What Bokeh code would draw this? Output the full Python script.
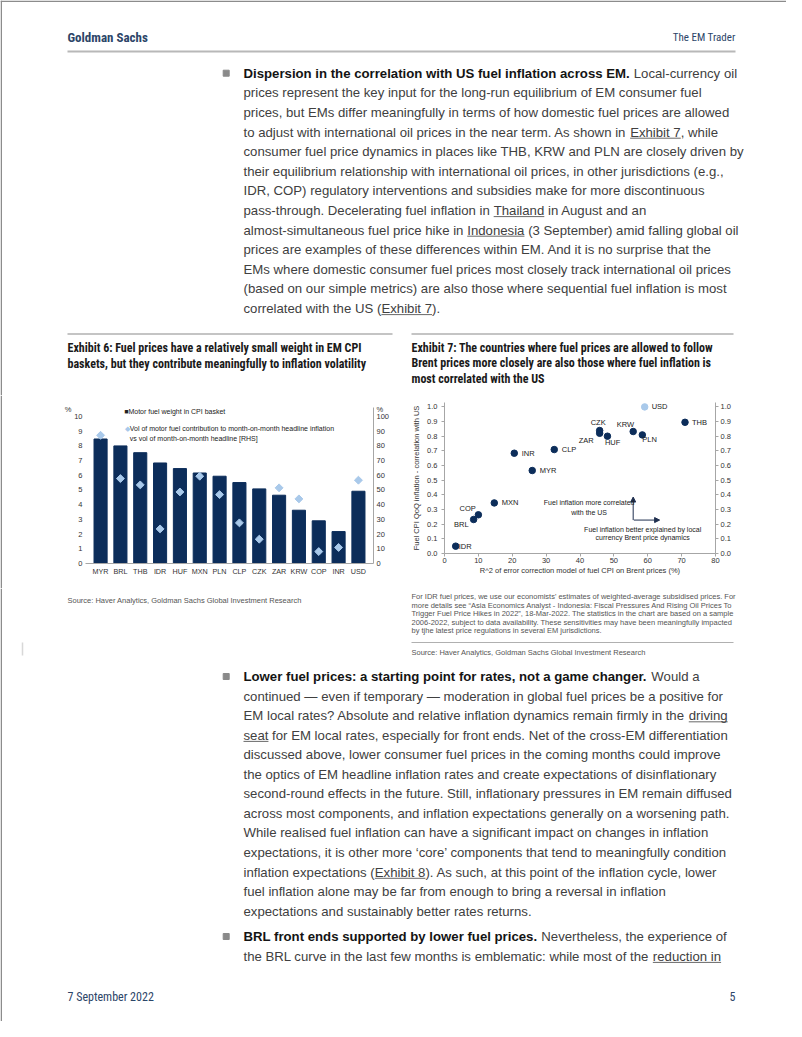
import numpy as np
from bokeh.plotting import figure
from bokeh.models import (Range1d, FactorRange, LinearAxis, FixedTicker, Label, Arrow,
                          NormalHead, PrintfTickFormatter, ColumnDataSource, Spacer)
from bokeh.layouts import column, row
from bokeh.core.properties import value
from bokeh.embed import file_html
from bokeh.resources import INLINE

# ---------------- data: Exhibit 6 ----------------
ex6_currency = ["MYR", "BRL", "THB", "IDR", "HUF", "MXN", "PLN", "CLP", "CZK", "ZAR", "KRW", "COP", "INR", "USD"]
ex6_fuel_weight = [8.46, 7.99, 7.53, 6.83, 6.45, 6.15, 5.93, 5.50, 5.07, 4.64, 3.62, 2.90, 2.17, 4.91]
ex6_vol_ratio = [87.1, 57.7, 53.4, 23.5, 48.6, 59.3, 46.8, 27.6, 16.5, 51.4, 43.9, 8.1, 10.9, 56.6]
ex6_left_ticks = [0, 1, 2, 3, 4, 5, 6, 7, 8, 9, 10]
ex6_right_ticks = [0, 10, 20, 30, 40, 50, 60, 70, 80, 90, 100]

# ---------------- data: Exhibit 7 ----------------
ex7_currency = ["USD", "THB", "KRW", "PLN", "CZK", "ZAR", "HUF", "CLP", "INR", "MYR", "MXN", "COP", "BRL", "IDR"]
ex7_r2 = [59.1, 71.0, 55.7, 58.4, 45.8, 45.8, 48.1, 32.4, 20.6, 25.9, 14.7, 10.0, 8.6, 3.3]
ex7_corr = [1.0, 0.895, 0.832, 0.809, 0.839, 0.82, 0.80, 0.709, 0.684, 0.566, 0.345, 0.264, 0.232, 0.05]
ex7_x_ticks = [0, 10, 20, 30, 40, 50, 60, 70, 80]
ex7_y_ticks = [0.0, 0.1, 0.2, 0.3, 0.4, 0.5, 0.6, 0.7, 0.8, 0.9, 1.0]

# ---------------- page texts ----------------
header_left = "Goldman Sachs"
header_right = "The EM Trader"
footer_left = "7 September 2022"
footer_right = "5"

# each line: list of (kind, text); kind r=regular, b=bold, u=underlined link
para1 = [
    [("b", "Dispersion in the correlation with US fuel inflation across EM."), ("r", " Local-currency oil")],
    [("r", "prices represent the key input for the long-run equilibrium of EM consumer fuel")],
    [("r", "prices, but EMs differ meaningfully in terms of how domestic fuel prices are allowed")],
    [("r", "to adjust with international oil prices in the near term. As shown in "), ("u", "Exhibit 7"), ("r", ", while")],
    [("r", "consumer fuel price dynamics in places like THB, KRW and PLN are closely driven by")],
    [("r", "their equilibrium relationship with international oil prices, in other jurisdictions (e.g.,")],
    [("r", "IDR, COP) regulatory interventions and subsidies make for more discontinuous")],
    [("r", "pass-through. Decelerating fuel inflation in "), ("u", "Thailand"), ("r", " in August and an")],
    [("r", "almost-simultaneous fuel price hike in "), ("u", "Indonesia"), ("r", " (3 September) amid falling global oil")],
    [("r", "prices are examples of these differences within EM. And it is no surprise that the")],
    [("r", "EMs where domestic consumer fuel prices most closely track international oil prices")],
    [("r", "(based on our simple metrics) are also those where sequential fuel inflation is most")],
    [("r", "correlated with the US ("), ("u", "Exhibit 7"), ("r", ").")],
]
para2 = [
    [("b", "Lower fuel prices: a starting point for rates, not a game changer."), ("r", " Would a")],
    [("r", "continued \u2014 even if temporary \u2014 moderation in global fuel prices be a positive for")],
    [("r", "EM local rates? Absolute and relative inflation dynamics remain firmly in the "), ("u", "driving")],
    [("u", "seat"), ("r", " for EM local rates, especially for front ends. Net of the cross-EM differentiation")],
    [("r", "discussed above, lower consumer fuel prices in the coming months could improve")],
    [("r", "the optics of EM headline inflation rates and create expectations of disinflationary")],
    [("r", "second-round effects in the future. Still, inflationary pressures in EM remain diffused")],
    [("r", "across most components, and inflation expectations generally on a worsening path.")],
    [("r", "While realised fuel inflation can have a significant impact on changes in inflation")],
    [("r", "expectations, it is other more \u2018core\u2019 components that tend to meaningfully condition")],
    [("r", "inflation expectations ("), ("u", "Exhibit 8"), ("r", "). As such, at this point of the inflation cycle, lower")],
    [("r", "fuel inflation alone may be far from enough to bring a reversal in inflation")],
    [("r", "expectations and sustainably better rates returns.")],
]
para3 = [
    [("b", "BRL front ends supported by lower fuel prices."), ("r", " Nevertheless, the experience of")],
    [("r", "the BRL curve in the last few months is emblematic: while most of the "), ("u", "reduction in")],
]
ex6_title = ["Exhibit 6: Fuel prices have a relatively small weight in EM CPI",
             "baskets, but they contribute meaningfully to inflation volatility"]
ex7_title = ["Exhibit 7: The countries where fuel prices are allowed to follow",
             "Brent prices more closely are also those where fuel inflation is",
             "most correlated with the US"]
ex6_source = "Source: Haver Analytics, Goldman Sachs Global Investment Research"
ex7_note = ["For IDR fuel prices, we use our economists' estimates of weighted-average subsidised prices. For",
            "more details see \u201cAsia Economics Analyst - Indonesia: Fiscal Pressures And Rising Oil Prices To",
            "Trigger Fuel Price Hikes in 2022\u201d, 18-Mar-2022. The statistics in the chart are based on a sample",
            "2006-2022, subject to data availability. These sensitivities may have been meaningfully impacted",
            "by tjhe latest price regulations in several EM jurisdictions."]
ex7_source = "Source: Haver Analytics, Goldman Sachs Global Investment Research"

# ---------------- styles ----------------
NAVY = "#0c2d5a"
LIGHT = "#a9c9ea"
BODY = "Liberation Sans"
COND = "Roboto Condensed"
FS = 13.2
TXT = "#404040"
HEAD = "#2c4568"
AX = "#a6a6a6"
BORDER = "#8c8c8c"

# Arial-metric advance widths (1/1000 em) used only to place inline segments
_REG = {' ': 278, '!': 278, '"': 355, "'": 191, '(': 333, ')': 333, ',': 278, '-': 333, '.': 278,
        ':': 278, ';': 278, '?': 556, '\u2014': 1000, '\u2018': 222, '\u2019': 222,
        'A': 667, 'B': 667, 'C': 722, 'D': 722, 'E': 667, 'F': 611, 'G': 778, 'H': 722, 'I': 278,
        'J': 500, 'K': 667, 'L': 556, 'M': 833, 'N': 722, 'O': 778, 'P': 667, 'Q': 778, 'R': 722,
        'S': 667, 'T': 611, 'U': 722, 'V': 667, 'W': 944, 'X': 667, 'Y': 667, 'Z': 611,
        'a': 556, 'b': 556, 'c': 500, 'd': 556, 'e': 556, 'f': 278, 'g': 556, 'h': 556, 'i': 222,
        'j': 222, 'k': 500, 'l': 222, 'm': 833, 'n': 556, 'o': 556, 'p': 556, 'q': 556, 'r': 333,
        's': 500, 't': 278, 'u': 556, 'v': 500, 'w': 722, 'x': 500, 'y': 500, 'z': 500}
_BOLD = {' ': 278, ',': 278, '-': 333, '.': 278, ':': 333,
         'A': 722, 'B': 722, 'C': 722, 'D': 722, 'E': 667, 'F': 611, 'G': 778, 'H': 722, 'I': 278,
         'L': 611, 'M': 833, 'N': 722, 'O': 778, 'P': 667, 'R': 722, 'S': 667, 'T': 611, 'U': 722,
         'a': 556, 'b': 611, 'c': 556, 'd': 611, 'e': 556, 'f': 333, 'g': 611, 'h': 611, 'i': 278,
         'j': 278, 'k': 556, 'l': 278, 'm': 889, 'n': 611, 'o': 611, 'p': 611, 'q': 611, 'r': 389,
         's': 556, 't': 333, 'u': 611, 'v': 556, 'w': 778, 'x': 556, 'y': 556, 'z': 500}


def text_w(t, bold=False):
    tab = _BOLD if bold else _REG
    return sum(tab.get(c, 556) for c in t) * FS / 1000.0


def page_fig(w, h, y_top, y_bot):
    p = figure(width=w, height=h, x_range=Range1d(0, w), y_range=Range1d(y_bot, y_top),
               output_backend="svg", toolbar_location=None, min_border=0,
               x_axis_type=None, y_axis_type=None)
    p.grid.visible = False
    p.outline_line_color = None
    p.frame_align = False
    return p


def draw_para(p, lines, y0, dy, x0=243.0, bullet=True):
    reg = dict(x=[], y=[], t=[])
    bold = dict(x=[], y=[], t=[])
    ul = dict(x0=[], x1=[], y=[])
    for i, segs in enumerate(lines):
        y = y0 + i * dy
        cur = x0
        for kind, t in segs:
            isb = kind == "b"
            lead = len(t) - len(t.lstrip(" "))
            core = t.strip(" ")
            xs = cur + text_w(" " * lead, isb)
            d = bold if isb else reg
            d["x"].append(xs); d["y"].append(y); d["t"].append(core)
            if kind == "u":
                ul["x0"].append(xs); ul["x1"].append(xs + text_w(core)); ul["y"].append(y + 6.2)
            cur += text_w(t, isb)
    p.text(x="x", y="y", text="t", source=ColumnDataSource(reg), text_font=value(BODY),
           text_font_size="%.1fpx" % FS, text_color=TXT, text_baseline="middle", text_align="left")
    p.text(x="x", y="y", text="t", source=ColumnDataSource(bold), text_font=value(BODY),
           text_font_size="%.1fpx" % FS, text_font_style="bold", text_color="#141414",
           text_baseline="middle", text_align="left")
    p.segment(x0="x0", y0="y", x1="x1", y1="y", source=ColumnDataSource(ul),
              line_color=TXT, line_width=0.8)
    if bullet:
        p.scatter(x=[225.7], y=[y0], marker="square", size=6, color="#8a8a8a")


# ---------------- top page part (y 0..395) ----------------
top = page_fig(786, 395, 0, 395)
top.segment(x0=[0, 0.75], y0=[0.75, 0], x1=[786, 0.75], y1=[0.75, 395], line_color=BORDER, line_width=1.5)
top.text(x=[67], y=[37], text=[header_left], text_font=value(COND), text_font_size="13px",
         text_color=HEAD, text_baseline="middle", text_font_style="bold")
top.text(x=[735], y=[37], text=[header_right], text_font=value(COND), text_font_size="11px",
         text_color=HEAD, text_baseline="middle", text_align="right")
top.segment(x0=[67], y0=[51], x1=[735], y1=[51], line_color="#b8b8b8", line_width=2)
draw_para(top, para1, 72.7, 19.6)
top.segment(x0=[67, 411], y0=[333.5, 333.5], x1=[392, 733], y1=[333.5, 333.5],
            line_color="#b0b0b0", line_width=1.6)
top.text(x=[67] * 2, y=[347, 363], text=ex6_title, text_font=value(COND), text_font_size="12px",
         text_font_style="bold", text_color="#1a1a1a", text_baseline="middle")
top.text(x=[411] * 3, y=[347, 362.5, 378], text=ex7_title, text_font=value(COND), text_font_size="12px",
         text_font_style="bold", text_color="#1a1a1a", text_baseline="middle")

# ---------------- Exhibit 6 chart ----------------
c1 = figure(width=338, height=193, output_backend="svg", toolbar_location=None,
            x_range=FactorRange(*ex6_currency, range_padding=0.26, range_padding_units="absolute"),
            y_range=Range1d(0, 10.6),
            min_border_left=25, min_border_right=25, min_border_top=12, min_border_bottom=25)
c1.frame_align = False
c1.extra_y_ranges = {"rhs": Range1d(0, 106)}
c1.vbar(x=ex6_currency, top=ex6_fuel_weight, width=0.66, color=NAVY)
c1.scatter(x=ex6_currency, y=ex6_vol_ratio, y_range_name="rhs", marker="square",
           angle=np.pi / 4, size=5.6, color=LIGHT)
c1.grid.visible = False
c1.outline_line_color = None
c1.yaxis.ticker = FixedTicker(ticks=ex6_left_ticks)
rax = LinearAxis(y_range_name="rhs", ticker=FixedTicker(ticks=ex6_right_ticks + [104.6]),
                 major_label_overrides={104.6: "%"})
c1.add_layout(rax, "right")
unit_ax = LinearAxis(ticker=FixedTicker(ticks=[10.46]), major_label_overrides={10.46: "%"})
c1.add_layout(unit_ax, "left")
for ax in [c1.yaxis[0], rax, unit_ax]:
    ax.major_label_text_font = BODY
    ax.major_label_text_font_size = "7.5px"
    ax.major_label_text_color = "#333333"
    ax.minor_tick_line_color = None
    ax.major_tick_line_color = None
    ax.major_tick_in = 0
    ax.major_tick_out = 0
    ax.major_label_standoff = 3
c1.yaxis[0].axis_line_color = None
unit_ax.axis_line_color = None
unit_ax.major_label_standoff = 0
rax.axis_line_color = AX
c1.xaxis.axis_line_color = AX
c1.xaxis.major_tick_line_color = None
c1.xaxis.major_tick_in = 0
c1.xaxis.major_tick_out = 0
c1.xaxis.major_label_text_font = BODY
c1.xaxis.major_label_text_font_size = "7.2px"
c1.xaxis.major_label_text_color = "#333333"
c1.xaxis.major_label_standoff = 3
c1.add_layout(Label(x=1.69, y=10.36, text="\u25a0Motor fuel weight in CPI basket", text_font=BODY,
                    text_font_size="7px", text_color="#222222", text_baseline="middle"))
c1.add_layout(Label(x=1.74, y=9.16, text="\u25c6", text_font=BODY, text_font_size="7px",
                    text_color=LIGHT, text_baseline="middle"))
c1.add_layout(Label(x=1.97, y=9.16, text="Vol of motor fuel contribution to month-on-month headline inflation",
                    text_font=BODY, text_font_size="7px", text_color="#222222", text_baseline="middle"))
c1.add_layout(Label(x=1.97, y=8.52, text="vs vol of month-on-month headline [RHS]",
                    text_font=BODY, text_font_size="7px", text_color="#222222", text_baseline="middle"))

# ---------------- Exhibit 7 chart ----------------
c2 = figure(width=352, height=193, output_backend="svg", toolbar_location=None,
            x_range=Range1d(0, 80), y_range=Range1d(0, 1.03),
            min_border_left=46, min_border_right=35, min_border_top=7, min_border_bottom=35)
c2.frame_align = False
c2.extra_y_ranges = {"rhs": Range1d(0, 1.03)}
c2.grid.visible = False
c2.outline_line_color = None
pt_color = [LIGHT if c == "USD" else NAVY for c in ex7_currency]
lab_dx = {"USD": 7, "THB": 7, "KRW": 1, "PLN": 0, "CZK": -1.5, "ZAR": -6, "HUF": -2.5, "CLP": 7.5,
          "INR": 7.5, "MYR": 7.5, "MXN": 7.5, "COP": -2.5, "BRL": -5, "IDR": 3}
lab_dy = {"USD": 0, "THB": 0, "KRW": -7, "PLN": 5, "CZK": -8.5, "ZAR": 7.5, "HUF": 6, "CLP": 0,
          "INR": 0, "MYR": 0, "MXN": 0, "COP": -6.5, "BRL": 5, "IDR": 0}
lab_al = {"KRW": "right", "CZK": "center", "ZAR": "right", "COP": "right", "BRL": "right"}
src2 = ColumnDataSource(dict(
    x=ex7_r2, y=ex7_corr, name=ex7_currency, color=pt_color,
    dx=[lab_dx[c] for c in ex7_currency], dy=[lab_dy[c] for c in ex7_currency],
    al=[lab_al.get(c, "left") for c in ex7_currency]))
c2.scatter(x="x", y="y", source=src2, size=6.5, color="color")
c2.text(x="x", y="y", text="name", source=src2, x_offset="dx", y_offset="dy", text_align="al",
        text_baseline="middle", text_font=value(BODY), text_font_size="7.5px", text_color="#222222")
c2.xaxis.ticker = FixedTicker(ticks=ex7_x_ticks)
c2.yaxis.ticker = FixedTicker(ticks=ex7_y_ticks)
c2.yaxis.formatter = PrintfTickFormatter(format="%.1f")
c2.xaxis.axis_label = "R^2 of error correction model of fuel CPI on Brent prices (%)"
c2.yaxis.axis_label = "Fuel CPI QoQ inflation - correlation with US"
rax2 = LinearAxis(y_range_name="rhs", ticker=FixedTicker(ticks=ex7_y_ticks),
                  formatter=PrintfTickFormatter(format="%.1f"))
c2.add_layout(rax2, "right")
for ax in [c2.xaxis[0], c2.yaxis[0], rax2]:
    ax.axis_line_color = AX
    ax.major_tick_line_color = AX
    ax.minor_tick_line_color = None
    ax.major_tick_in = 0
    ax.major_tick_out = 3
    ax.major_label_standoff = 3
    ax.major_label_text_font = BODY
    ax.major_label_text_font_size = "7.5px"
    ax.major_label_text_color = "#333333"
    ax.axis_label_text_font = BODY
    ax.axis_label_text_font_size = "7.5px"
    ax.axis_label_text_font_style = "normal"
    ax.axis_label_text_color = "#333333"
c2.yaxis[0].major_label_standoff = 4
rax2.major_label_standoff = 2
c2.xaxis.major_label_standoff = 1
c2.xaxis.axis_label_standoff = 0
c2.yaxis[0].axis_label_standoff = 3
arrow_col = "#1f2f4f"
c2.add_layout(Arrow(x_start=55.7, y_start=0.228, x_end=55.7, y_end=0.385, line_color=arrow_col,
                    line_width=1, end=NormalHead(size=5, fill_color=arrow_col, line_color=arrow_col)))
c2.add_layout(Arrow(x_start=55.9, y_start=0.228, x_end=63.5, y_end=0.228, line_color=arrow_col,
                    line_width=1, end=NormalHead(size=5, fill_color=arrow_col, line_color=arrow_col)))
for (x, y, t) in [(42.7, 0.346, "Fuel inflation more correlated"), (42.7, 0.28, "with the US"),
                  (58.5, 0.162, "Fuel inflation better explained by local"),
                  (58.5, 0.109, "currency Brent price dynamics")]:
    c2.add_layout(Label(x=x, y=y, text=t, text_font=BODY, text_font_size="7px", text_color="#222222",
                        text_align="center", text_baseline="middle"))

# left margin strip of the chart row (carries the page border)
lpad = figure(width=60, height=193, x_range=Range1d(0, 60), y_range=Range1d(588, 395),
              output_backend="svg", toolbar_location=None, min_border=0,
              x_axis_type=None, y_axis_type=None)
lpad.grid.visible = False
lpad.outline_line_color = None
lpad.frame_align = False
lpad.segment(x0=[0.75], y0=[395], x1=[0.75], y1=[588], line_color=BORDER, line_width=1.5)

mid = row(lpad, c1, c2, Spacer(width=36, height=193), spacing=0)

# ---------------- bottom page part (y 588..1021) ----------------
bot = page_fig(786, 433, 588, 1021)
bot.segment(x0=[0.75], y0=[588], x1=[0.75], y1=[1021], line_color=BORDER, line_width=1.5)
bot.text(x=[67], y=[600], text=[ex6_source], text_font=value(BODY), text_font_size="7.5px",
         text_color="#555555", text_baseline="middle")
bot.text(x=[411] * 5, y=[596, 604.5, 613, 621.5, 630], text=ex7_note, text_font=value(BODY),
         text_font_size="7.5px", text_color="#555555", text_baseline="middle")
bot.segment(x0=[411], y0=[642], x1=[733], y1=[642], line_color="#b0b0b0", line_width=1.2)
bot.text(x=[411], y=[651.5], text=[ex7_source], text_font=value(BODY), text_font_size="7.5px",
         text_color="#555555", text_baseline="middle")
bot.segment(x0=[22], y0=[642], x1=[22], y1=[655], line_color="#d8d8d8", line_width=1.5)
draw_para(bot, para2, 676, 19.56)
draw_para(bot, para3, 936, 19.7)
bot.text(x=[67], y=[996], text=[footer_left], text_font=value(COND), text_font_size="12px",
         text_color=HEAD, text_baseline="middle")
bot.text(x=[735], y=[996], text=[footer_right], text_font=value(COND), text_font_size="12px",
         text_color=HEAD, text_baseline="middle", text_align="right")

page = column(top, mid, bot, spacing=0)
open("out.html", "w").write(file_html(page, INLINE))
